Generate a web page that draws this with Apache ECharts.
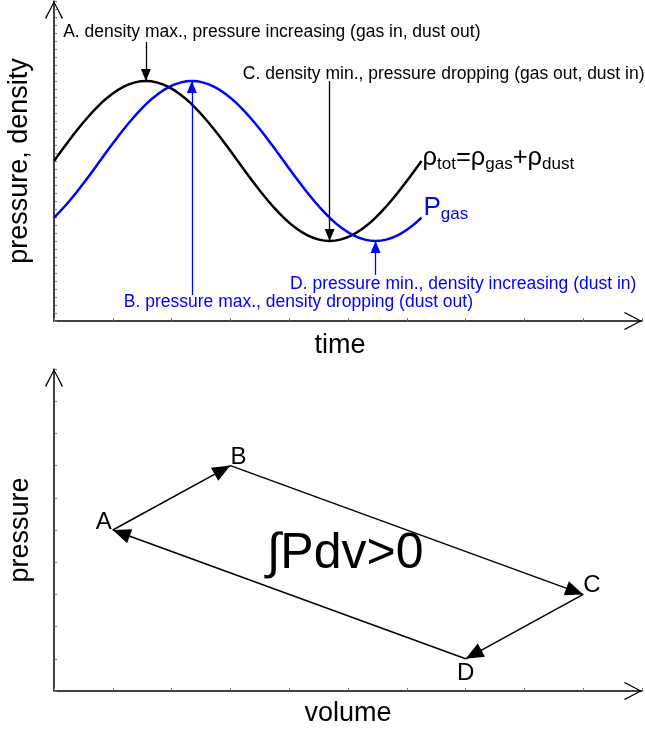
<!DOCTYPE html>
<html><head><meta charset="utf-8">
<script src="https://cdn.jsdelivr.net/npm/echarts@6/dist/echarts.min.js"></script>
<style>html,body{margin:0;padding:0;background:#fff}#c{width:645px;height:732px}</style>
</head><body><div id="c"></div>
<script>
// ---- top panel: time series ----
const time = [0,0.25,0.5,0.75,1,1.25,1.5,1.75,2,2.25,2.5,2.75,3,3.25,3.5,3.75,4,4.25,4.5,4.75,5,5.25,5.5,5.75,6,6.25,6.5,6.75,7,7.25,7.5,7.75,8];
const density = [5.00,5.49,5.96,6.39,6.77,7.08,7.31,7.45,7.50,7.45,7.31,7.08,6.77,6.39,5.96,5.49,5.00,4.51,4.04,3.61,3.23,2.92,2.69,2.55,2.50,2.55,2.69,2.92,3.23,3.61,4.04,4.51,5.00];
const pressure = [3.23,3.61,4.04,4.51,5.00,5.49,5.96,6.39,6.77,7.08,7.31,7.45,7.50,7.45,7.31,7.08,6.77,6.39,5.96,5.49,5.00,4.51,4.04,3.61,3.23,2.92,2.69,2.55,2.50,2.55,2.69,2.92,3.23];

// annotations (A, B, C, D)
const annotTexts = ['A. density max., pressure increasing (gas in, dust out)','B. pressure max., density dropping (dust out)','C. density min., pressure dropping (gas out, dust in)','D. pressure min., density increasing (dust in)'];
const annotColors = ['#000000','#0000ff','#000000','#0000ff'];
const annotTime = [2, 3, 6, 7];
const annotTail = [8.72, 0.81, 7.50, 1.44];
const annotTip = [7.50, 7.50, 2.50, 2.50];
const annotLabelX = [0.20, 1.52, 4.11, 5.14];
const annotLabelY = [9.02, 0.59, 7.72, 1.16];

// ---- bottom panel: P-V cycle ----
const cycleNames = ['A','B','C','D'];
const cycleVolume = [1, 3, 9, 7];
const cyclePressure = [5, 7, 3, 1];
const integralLabel = '∫Pdv>0';
const integralPos = [4.95, 4.25];

const FONT = 'Liberation Sans, Arial, Helvetica, sans-serif';
const chevron = 'path://M0,19 L10,0 L20,19 L18.8,20 L10,2.6 L1.2,20 Z';

function axisBase(extra) {
  return Object.assign({
    type: 'value',
    axisLabel: {show: false},
    splitLine: {show: false},
    axisTick: {show: true, inside: true, length: 3, lineStyle: {color: '#777', width: 1}},
    axisLine: {show: true, onZero: false, lineStyle: {color: '#000', width: 1.5},
      symbol: ['none', chevron], symbolSize: [21, 18], symbolOffset: [0, -9]},
    nameTextStyle: {fontFamily: FONT, fontSize: 27, color: '#000'}
  }, extra);
}

const annotArrows = (idxs) => idxs.map(i => [{coord: [annotTime[i], annotTail[i]]}, {coord: [annotTime[i], annotTip[i]]}]);

const cycleEdges = cycleNames.map((n, i) => {
  const j = (i + 1) % cycleNames.length;
  return [{coord: [cycleVolume[i], cyclePressure[i]]}, {coord: [cycleVolume[j], cyclePressure[j]]}];
});

const vertexLabel = [
  {position: 'left', distance: 1, offset: [0, -8]},
  {position: 'right', distance: 0, offset: [0, -8]},
  {position: 'right', distance: 0, offset: [0, -9]},
  {position: 'bottom', distance: 3, offset: [0, 0]}
];

const option = {
  animation: false,
  backgroundColor: '#fff',
  grid: [
    {left: 54, top: 1, right: 3, bottom: 411, containLabel: false, outerBoundsMode: 'none'},
    {left: 54, top: 369, right: 3, bottom: 41, containLabel: false, outerBoundsMode: 'none'}
  ],
  xAxis: [
    axisBase({gridIndex: 0, min: 0, max: 12.8, interval: 1.28, name: 'time', nameLocation: 'middle', nameGap: 11,
      nameTextStyle: {fontFamily: FONT, fontSize: 27, color: '#000', padding: [0, 16, 0, 0]}}),
    axisBase({gridIndex: 1, min: 0, max: 10, interval: 1, name: 'volume', nameLocation: 'middle', nameGap: 9})
  ],
  yAxis: [
    axisBase({gridIndex: 0, min: 0, max: 10, interval: 0.25, name: 'pressure, density', nameLocation: 'middle', nameGap: 21, nameRotate: 90}),
    axisBase({gridIndex: 1, min: 0, max: 10, interval: 1, name: 'pressure', nameLocation: 'middle', nameGap: 20, nameRotate: 90})
  ],
  series: [
    {
      type: 'line', xAxisIndex: 0, yAxisIndex: 0,
      data: time.map((t, i) => [t, density[i]]),
      smooth: true, showSymbol: false, symbol: 'none',
      lineStyle: {color: '#000', width: 2.5}, itemStyle: {color: '#000'},
      endLabel: {show: true, distance: 1, offset: [0, -3], formatter: '{m|ρ}{s|tot}{m|=ρ}{s|gas}{m|+ρ}{s|dust}',
        rich: {m: {fontFamily: FONT, fontSize: 25.5, lineHeight: 30, color: '#000'},
               s: {fontFamily: FONT, fontSize: 17, lineHeight: 21, verticalAlign: 'bottom', color: '#000'}}},
      markLine: {silent: true, symbol: ['none', 'triangle'], symbolSize: [10, 12], symbolOffset: [0, [0, 6]],
        label: {show: false}, lineStyle: {color: '#000', width: 1.3, type: 'solid'},
        data: annotArrows([0, 2])}
    },
    {
      type: 'line', xAxisIndex: 0, yAxisIndex: 0,
      data: time.map((t, i) => [t, pressure[i]]),
      smooth: true, showSymbol: false, symbol: 'none',
      lineStyle: {color: '#0000ff', width: 2.5}, itemStyle: {color: '#0000ff'},
      endLabel: {show: true, distance: 2, offset: [0, -10], formatter: '{m|P}{s|gas}',
        rich: {m: {fontFamily: FONT, fontSize: 26, lineHeight: 30, color: '#0000ff'},
               s: {fontFamily: FONT, fontSize: 17, lineHeight: 16, verticalAlign: 'bottom', color: '#0000ff'}}},
      markLine: {silent: true, symbol: ['none', 'triangle'], symbolSize: [10, 12], symbolOffset: [0, [0, 6]],
        label: {show: false}, lineStyle: {color: '#0000ff', width: 1.3, type: 'solid'},
        data: annotArrows([1, 3])}
    },
    {
      type: 'scatter', xAxisIndex: 0, yAxisIndex: 0, symbolSize: 0, silent: true,
      itemStyle: {opacity: 1},
      data: annotTexts.map((t, i) => ({value: [annotLabelX[i], annotLabelY[i]],
        label: {show: true, position: 'right', distance: 0, formatter: t,
          fontFamily: FONT, fontSize: 17.5, color: annotColors[i]}}))
    },
    {
      type: 'scatter', xAxisIndex: 1, yAxisIndex: 1, symbolSize: 0, silent: true,
      itemStyle: {opacity: 1},
      data: cycleNames.map((n, i) => ({value: [cycleVolume[i], cyclePressure[i]],
        label: Object.assign({show: true, formatter: n, fontFamily: FONT, fontSize: 24, color: '#000'}, vertexLabel[i])})),
      markLine: {silent: true, symbol: ['none', 'triangle'], symbolSize: [15, 18], symbolOffset: [0, [0, 9]],
        label: {show: false}, lineStyle: {color: '#000', width: 1.5, type: 'solid'},
        itemStyle: {color: '#000'},
        data: cycleEdges}
    },
    {
      type: 'scatter', xAxisIndex: 1, yAxisIndex: 1, symbolSize: 0, silent: true,
      itemStyle: {opacity: 1},
      data: [{value: integralPos, label: {show: true, position: 'inside', formatter: integralLabel,
        fontFamily: FONT, fontSize: 50, color: '#000'}}]
    }
  ]
};
const chart = echarts.init(document.getElementById('c'), null, {renderer: 'canvas'});
chart.setOption(option);
</script>
</body></html>
